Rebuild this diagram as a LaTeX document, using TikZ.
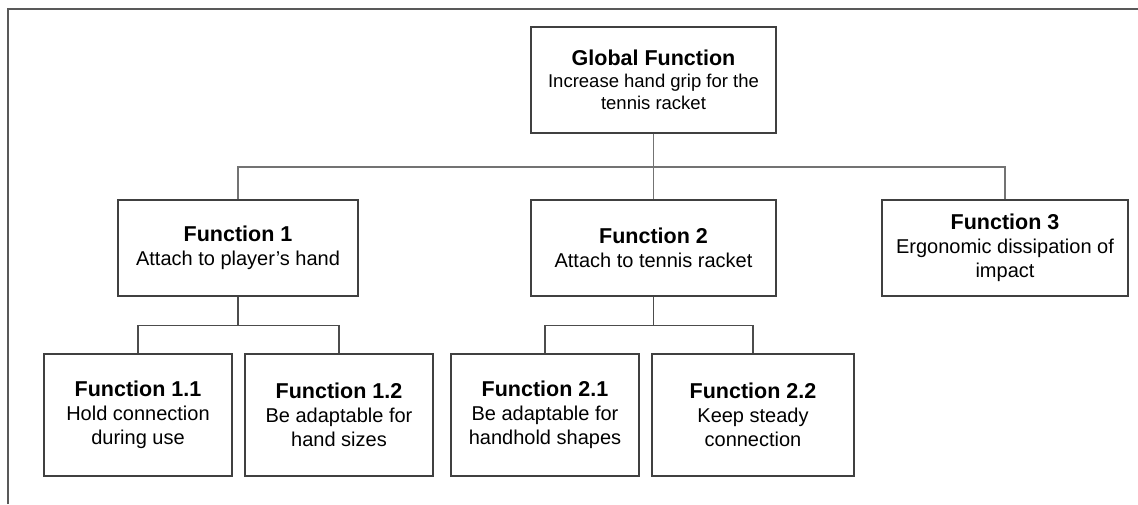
\documentclass[tikz,border=0pt]{standalone}
\usepackage{fontspec}
\setmainfont{Liberation Sans}
\begin{document}
\begin{tikzpicture}[x=1pt,y=-1pt,
  fbox/.style={draw=black!75, line width=1.4pt, inner sep=0pt, align=center,
    font=\fontsize{20}{24}\selectfont},
  gbox/.style={fbox, font=\fontsize{18.5}{22}\selectfont},
  conn/.style={draw=black!55, line width=1.2pt},
  sub/.style={draw=black!70, line width=1.3pt},
  frame/.style={draw=black!65, line width=1.4pt}]
\useasboundingbox (0,0) rectangle (1138,504);
\newcommand{\ttl}[1]{{\fontsize{21.5}{24}\selectfont\bfseries #1}}
% partial frame
\coordinate (fa) at (8,504);
\coordinate (fb) at (8,9);
\coordinate (fc) at (1138,9);
\draw[frame] (fa) -- (fb) -- (fc);
% nodes
\node[gbox, minimum width=245pt, minimum height=106pt] (g) at (653.5,80)
  {\ttl{Global Function}\\Increase hand grip for the\\tennis racket};
\node[fbox, minimum width=240pt, minimum height=96pt] (f1) at (238,248)
  {\ttl{Function 1}\\Attach to player’s hand};
\node[fbox, minimum width=245pt, minimum height=96pt] (f2) at (653.5,248)
  {\ttl{Function 2}\\Attach to tennis racket};
\node[fbox, minimum width=246pt, minimum height=96pt] (f3) at (1005,248)
  {\ttl{Function 3}\\Ergonomic dissipation of\\impact};
\node[fbox, minimum width=188pt, minimum height=122pt] (f11) at (138,415)
  {\ttl{Function 1.1}\\Hold connection\\during use};
\node[fbox, minimum width=188pt, minimum height=122pt] (f12) at (339,415)
  {\ttl{Function 1.2}\\Be adaptable for\\hand sizes};
\node[fbox, minimum width=188pt, minimum height=122pt] (f21) at (545,415)
  {\ttl{Function 2.1}\\Be adaptable for\\handhold shapes};
\node[fbox, minimum width=202pt, minimum height=122pt] (f22) at (753,415)
  {\ttl{Function 2.2}\\Keep steady\\connection};
% connectors
\coordinate (bus) at (653.5,167);
\draw[conn] (g.south) -- (f2.north);
\draw[conn] (f1.north) |- (bus) -| (f3.north);
\draw[sub] (f1.south) -- ++(0,29) coordinate (b1);
\draw[sub] (f11.north) |- (b1) -| (f12.north);
\draw[sub] (f2.south) -- ++(0,29) coordinate (b2);
\draw[sub] (f21.north) |- (b2) -| (f22.north);
\end{tikzpicture}
\end{document}
